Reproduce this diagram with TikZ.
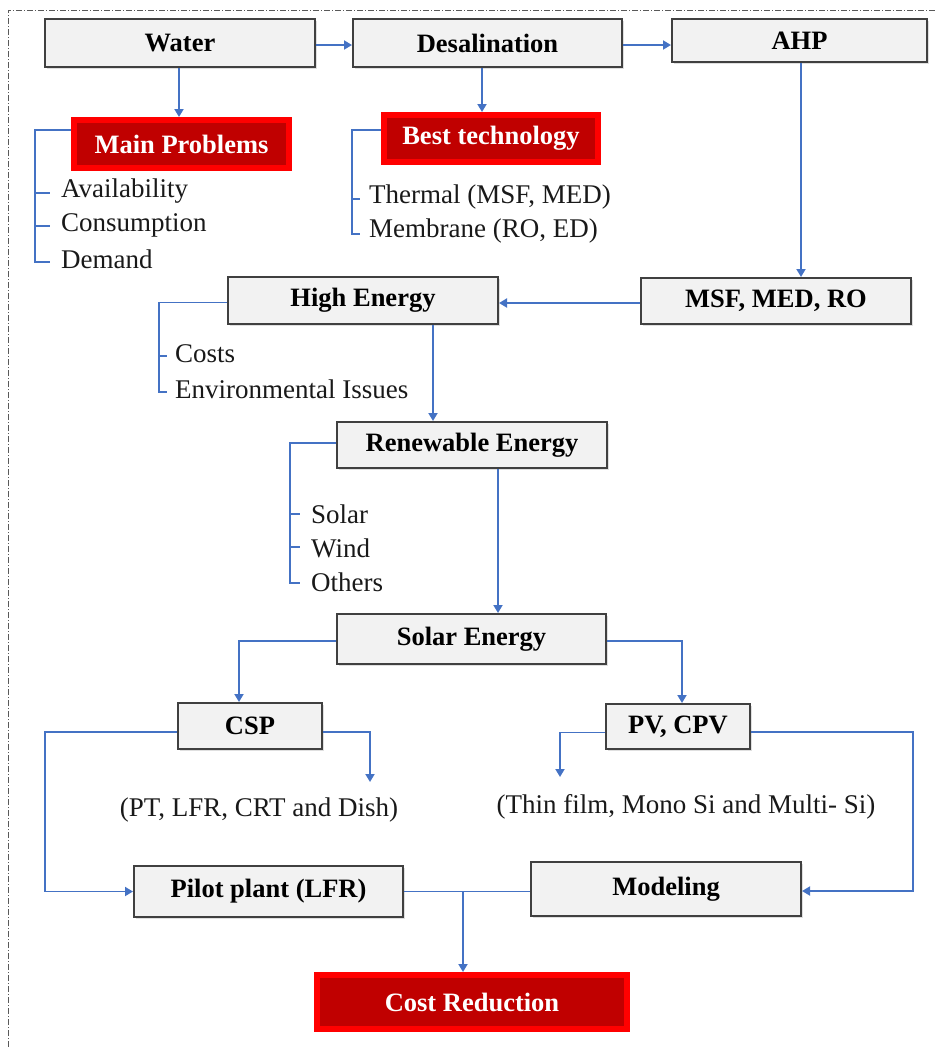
\documentclass[tikz,border=0pt]{standalone}
\usepackage{fontspec}
\setmainfont{Liberation Serif}
\usetikzlibrary{arrows.meta,shadows,calc}
\definecolor{conblue}{HTML}{4472C4}
\definecolor{boxfill}{HTML}{F2F2F2}
\definecolor{boxline}{HTML}{404040}
\definecolor{darkred}{HTML}{C00000}
\definecolor{brightred}{HTML}{FF0000}
\tikzset{
  gbox/.style={draw=boxline, line width=2pt, fill=boxfill, inner sep=0pt,
    font=\fontsize{26.5}{30}\selectfont\bfseries,
    drop shadow={opacity=0.25, shadow xshift=2pt, shadow yshift=-2pt}},
  rbox/.style={draw=brightred, line width=6pt, fill=darkred, text=white, inner sep=0pt,
    font=\fontsize{26.5}{30}\selectfont\bfseries,
    drop shadow={opacity=0.25, shadow xshift=3pt, shadow yshift=-3pt}},
  conn/.style={draw=conblue, line width=1.8pt},
  arr/.style={conn, -{Triangle[length=8pt,width=9pt]}},
  lbl/.style={anchor=west, inner sep=0pt, font=\fontsize{27}{30}\selectfont, text=black!90},
  clbl/.style={inner sep=0pt, font=\fontsize{27}{30}\selectfont, text=black!90},
  frame/.style={draw=gray!70!black, line width=0.8pt, dash pattern=on 6pt off 2pt on 1pt off 2pt},
}
\begin{document}
\begin{tikzpicture}[x=1pt,y=-1pt]
\useasboundingbox (0,0) rectangle (935,1047);
\coordinate (fr1) at (8,1047);
\coordinate (fr2) at (8,10);
\coordinate (fr3) at (935,10);
\draw[frame] (fr1) -- (fr2) -- (fr3);

% boxes
\node[gbox, minimum width=270pt, minimum height=48pt] (water) at (180,43) {Water};
\node[gbox, minimum width=269pt, minimum height=48pt] (desal) at (487.5,43) {Desalination};
\node[gbox, minimum width=255pt, minimum height=43pt] (ahp) at (799.5,40.5) {AHP};
\node[rbox, minimum width=215pt, minimum height=48pt] (mp) at (181.5,144) {Main Problems};
\node[rbox, minimum width=214pt, minimum height=47pt] (best) at (491,138.5) {Best technology};
\node[gbox, minimum width=270pt, minimum height=46pt] (msf) at (776,301) {MSF, MED, RO};
\node[gbox, minimum width=270pt, minimum height=47pt] (high) at (363,300.5) {High Energy};
\node[gbox, minimum width=270pt, minimum height=46pt] (ren) at (472,445) {Renewable Energy};
\node[gbox, minimum width=269pt, minimum height=50pt] (solar) at (471.5,639) {Solar Energy};
\node[gbox, minimum width=144pt, minimum height=46pt] (csp) at (250,726) {CSP};
\node[gbox, minimum width=144pt, minimum height=45pt] (pv) at (678,726.5) {PV, CPV};
\node[gbox, minimum width=269pt, minimum height=51pt] (pilot) at (268.5,891.5) {Pilot plant (LFR)};
\node[gbox, minimum width=270pt, minimum height=54pt] (model) at (666,889) {Modeling};
\node[rbox, minimum width=310pt, minimum height=54pt] (cost) at (472,1002) {Cost Reduction};

% labels
\node[lbl] (av) at (61,191) {Availability};
\node[lbl] (co) at (61,225) {Consumption};
\node[lbl] (de) at (61,259) {Demand};
\node[lbl] (th) at (369,197) {Thermal (MSF, MED)};
\node[lbl] (me) at (369,231) {Membrane (RO, ED)};
\node[lbl] (cs) at (175,354) {Costs};
\node[lbl] (en) at (175,389) {Environmental Issues};
\node[lbl] (so) at (311,514) {Solar};
\node[lbl] (wi) at (311,548) {Wind};
\node[lbl] (ot) at (311,582) {Others};
\node[clbl] (pt) at (259,810) {(PT, LFR, CRT and Dish)};
\node[clbl] (tf) at (686,807) {(Thin film, Mono Si and Multi- Si)};

% bracket coordinates
\coordinate (mpc) at (35,262);
\coordinate (mpt1) at (35,193);
\coordinate (mpt2) at (35,226);
\coordinate (btc) at (352,234);
\coordinate (btt1) at (352,199);
\coordinate (hec) at (159,392);
\coordinate (het1) at (159,356);
\coordinate (rec) at (290,583);
\coordinate (ret1) at (290,514);
\coordinate (ret2) at (290,547);

% brackets
\draw[conn] ([yshift=14pt]mp.west) -| (mpc) -- ++(15,0);
\draw[conn] (mpt1) -- ++(15,0);
\draw[conn] (mpt2) -- ++(15,0);
\draw[conn] ([yshift=8.5pt]best.west) -| (btc) -- ++(8,0);
\draw[conn] (btt1) -- ++(8,0);
\draw[conn] ([yshift=-2pt]high.west) -| (hec) -- ++(8,0);
\draw[conn] (het1) -- ++(8,0);
\draw[conn] ([yshift=2pt]ren.west) -| (rec) -- ++(10,0);
\draw[conn] (ret1) -- ++(10,0);
\draw[conn] (ret2) -- ++(10,0);

% connectors
\draw[arr] ([yshift=-2pt]water.east) -- ([yshift=-2pt]water.east -| desal.west);
\draw[arr] ([yshift=-2pt]desal.east) -- ([yshift=-2pt]desal.east -| ahp.west);
\draw[arr] ([xshift=-1pt]water.south) -- ([xshift=-1pt]water.south |- mp.north);
\draw[arr] ([xshift=-5.5pt]desal.south) -- ([xshift=-5.5pt]desal.south |- best.north);
\draw[arr] ([xshift=1.5pt]ahp.south) -- ([xshift=1.5pt]ahp.south |- msf.north);
\draw[arr] ([yshift=-2pt]msf.west) -- ([yshift=-2pt]msf.west -| high.east);
\draw[arr] ([xshift=70pt]high.south) -- ([xshift=70pt]high.south |- ren.north);
\draw[arr] ([xshift=26pt]ren.south) -- ([xshift=26pt]ren.south |- solar.north);
\draw[arr] ([yshift=-2pt]solar.west) -| ([xshift=-11pt]csp.north);
\draw[arr] ([yshift=-2pt]solar.east) -| ([xshift=4pt]pv.north);

\coordinate (ptc) at (370,782);
\coordinate (tfc) at (560,777);
\coordinate (cl) at (45,732);
\coordinate (pr) at (913,732);
\coordinate (jn) at (463,891);
\draw[arr] ([yshift=-6pt]csp.east) -| (ptc);
\draw[arr] ([yshift=-6pt]pv.west) -| (tfc);
\draw[arr] ([yshift=-6pt]csp.west) -- (cl) |- (pilot.west);
\draw[arr] ([yshift=-5.5pt]pv.east) -- (pr) |- ([yshift=-2pt]model.east);
\draw[conn] (pilot.east) -- (pilot.east -| model.west);
\draw[arr] (jn) -- (jn |- cost.north);
\end{tikzpicture}
\end{document}
